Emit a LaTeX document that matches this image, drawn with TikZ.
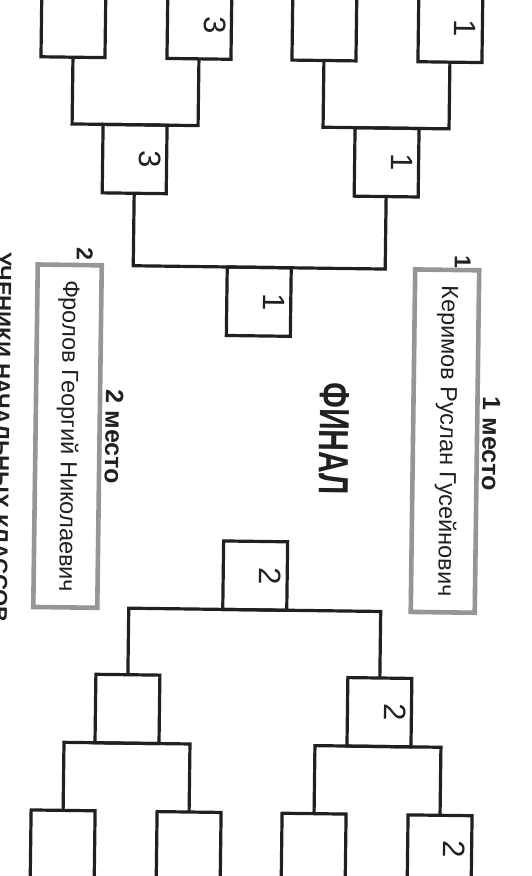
\documentclass[tikz,border=0pt]{standalone}
\usepackage{fontspec}
\setmainfont{Liberation Sans}
\definecolor{ink}{RGB}{32,32,32}
\definecolor{frame}{RGB}{150,150,150}
\begin{document}
\begin{tikzpicture}[x=1pt,y=-1pt,
  box/.style={draw=ink, line width=3.2pt, minimum width=64pt, minimum height=68.5pt, inner sep=0pt, outer sep=0pt},
  namebox/.style={draw=frame, line width=4.6pt, minimum width=64pt, minimum height=342.5pt, inner sep=0pt, outer sep=0pt},
  link/.style={draw=ink, line width=3.2pt, line join=miter},
  score/.style={rotate=-90, inner sep=0pt, text=ink, font=\fontsize{31}{31}\selectfont},
  place/.style={rotate=-90, inner sep=0pt, text=ink, font=\bfseries\fontsize{23}{23}\selectfont},
  title/.style={rotate=-90, inner sep=0pt, text=ink, font=\bfseries\fontsize{25}{25}\selectfont},
  person/.style={rotate=-90, inner sep=0pt, text=ink, font=\fontsize{23.5}{23.5}\selectfont},
]
\useasboundingbox (0,0) rectangle (532,876);
\fill[white] (0,0) rectangle (532,876);
\clip (0,0) rectangle (532,876);
\begin{scope}[rotate around={-0.75:(266,438)}, transform shape]
  % upper half
  \node[box] (a1) at (68,25.5) {};
  \node[box] (a2) at (194,25.5) {};
  \node[box] (a3) at (319,25.5) {};
  \node[box] (a4) at (445,25.5) {};
  \node[box] (b1) at (131,160.75) {};
  \node[box] (b2) at (383,160.75) {};
  \node[box] (c1) at (257,301.75) {};
  % lower half
  \node[box] (c2) at (257,575.75) {};
  \node[box] (d1) at (131,710.75) {};
  \node[box] (d2) at (383,710.75) {};
  \node[box] (e1) at (68,847.25) {};
  \node[box] (e2) at (194,847.25) {};
  \node[box] (e3) at (319,847.25) {};
  \node[box] (e4) at (445,847.25) {};
  % connectors
  \draw[link] (a1.south) |- (b1.north) -| (a2.south);
  \draw[link] (a3.south) |- (b2.north) -| (a4.south);
  \draw[link] (b1.south) |- (c1.north) -| (b2.south);
  \draw[link] (d1.north) |- (c2.south) -| (d2.north);
  \draw[link] (e1.north) |- (d1.south) -| (e2.north);
  \draw[link] (e3.north) |- (d2.south) -| (e4.north);
  % scores
  \node[score] (s1) at (210,25.5) {3};
  \node[score] (s2) at (460,25.5) {1};
  \node[score] (s3) at (146.5,160.75) {3};
  \node[score] (s4) at (398.5,160.75) {1};
  \node[score] (s5) at (272,301.75) {1};
  \node[score] (s6) at (272,575.75) {2};
  \node[score] (s7) at (398.5,710.75) {2};
  \node[score] (s8) at (460,847.25) {2};
  % winners
  \node[namebox] (g1) at (445,438.75) {};
  \node[namebox] (g2) at (67.5,438.75) {};
  \node[person] (n1) at (446.5,438.75) {Керимов Руслан Гусейнович};
  \node[person] (n2) at (67.5,438.75) {Фролов Георгий Николаевич};
  \node[place] (p1) at (460.5,259.5) {1};
  \node[place] (p2) at (82.5,256.5) {2};
  \node[title] (t1) at (491,441) {1 место};
  \node[title] (t2) at (114,439) {2 место};
  \node[rotate=-90, inner sep=0pt, text=ink, font=\bfseries\fontsize{30}{30}\selectfont] (fin) at (334,438) {\scalebox{1}[1.4]{ФИНАЛ}};
  \node[rotate=-90, anchor=base west, inner sep=0pt, text=ink, font=\bfseries\fontsize{22}{22}\selectfont] (side) at (-6,255.5) {УЧЕНИКИ НАЧАЛЬНЫХ КЛАССОВ};
\end{scope}
\end{tikzpicture}
\end{document}
